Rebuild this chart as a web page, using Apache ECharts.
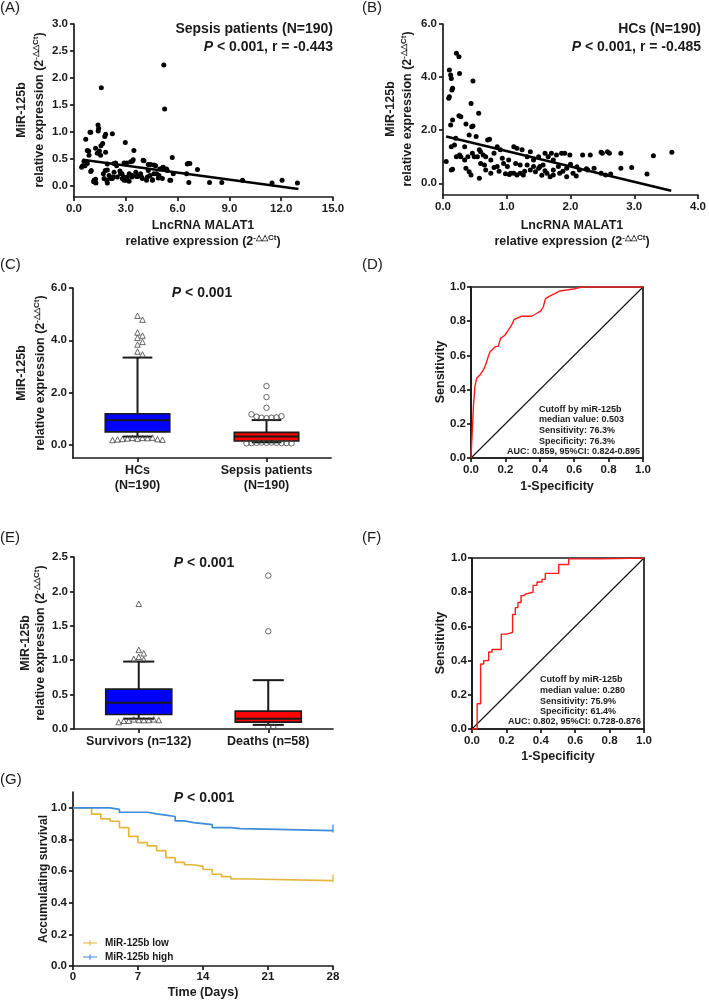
<!DOCTYPE html>
<html><head><meta charset="utf-8">
<script src="https://cdn.jsdelivr.net/npm/echarts@6/dist/echarts.min.js"></script>
<style>html,body{margin:0;padding:0;background:#fff}#c{width:709px;height:1001px}</style>
</head><body><div id="c"></div>
<script>
const FONT = '"Liberation Sans", Arial, Helvetica, sans-serif';
const INK = '#1a1a1a';

// ---------- Panel A: sepsis patients scatter ----------
const sepsisScatter = [
[5.2,2.24],[5.25,1.43],[1.58,1.82],
[1.39,1.13],[1.43,1.07],[1.40,1.02],[0.93,1.0],[0.97,1.0],[1.83,0.96],[1.78,0.92],[2.22,0.97],[0.68,0.87],[2.97,0.81],[1.66,0.79],[1.56,0.75],[0.77,0.66],[0.85,0.65],[1.25,0.70],[1.35,0.61],[1.47,0.65],[1.54,0.57],[1.83,0.63],[3.47,0.66],[0.87,0.57],[5.69,0.53],
[0.5,0.38],[0.44,0.35],[0.64,0.38],[0.58,0.46],[0.77,0.42],[1.0,0.29],[0.97,0.27],
[1.16,0.11],[1.27,0.06],[1.14,0.08],[1.25,0.13],
[1.7,0.23],[1.81,0.29],[1.89,0.11],[1.93,0.06],[1.74,0.14],[1.93,0.30],[1.93,0.41],
[2.31,0.42],[2.41,0.43],[2.47,0.38],[2.12,0.14],[2.27,0.17],[2.22,0.14],[2.32,0.26],[2.03,0.2],[2.51,0.17],
[2.66,0.28],[2.78,0.23],[2.7,0.23],[2.89,0.17],[2.8,0.14],[2.9,0.43],[2.9,0.11],[3.0,0.11],
[3.05,0.43],[3.09,0.17],[3.19,0.09],[3.28,0.45],[3.38,0.46],[3.43,0.49],[3.2,0.23],[3.35,0.17],[3.38,0.20],[3.62,0.18],[3.67,0.18],[3.58,0.26],[3.86,0.23],[3.91,0.17],[3.96,0.14],
[4.0,0.48],[4.05,0.47],[4.2,0.11],[4.25,0.17],[4.3,0.4],[4.3,0.29],[4.4,0.2],[4.44,0.40],[4.54,0.11],[4.55,0.12],[4.63,0.39],[4.63,0.23],[4.73,0.38],[4.78,0.23],[4.88,0.15],[4.92,0.2],[4.97,0.32],[5.12,0.34],[5.12,0.14],[5.17,0.35],[5.36,0.32],[5.4,0.29],[5.55,0.11],[5.6,0.11],[5.75,0.23],
[6.52,0.23],[6.56,0.41],[6.61,0.42],[6.71,0.42],[6.65,0.07],[7.15,0.31],[7.85,0.07],[8.56,0.07],[9.76,0.11],[11.47,0.06],[12.05,0.11],[12.94,0.06]
];
const sepsisFit = [[0.5,0.49],[13,-0.05]];
const aXTicks = [0,3,6,9,12,15];
const aYTicks = [0,0.5,1,1.5,2,2.5,3];

// ---------- Panel B: HCs scatter ----------
const hcScatter = [
[0.05,0.82],[0.1,4.27],[0.12,4.08],[0.13,3.95],[0.09,3.2],[0.1,3.26],[0.14,3.51],[0.15,3.58],[0.21,4.9],[0.25,4.77],[0.26,4.14],[0.47,3.85],[0.44,3.01],[0.56,2.64],
[0.12,2.2],[0.15,2.38],[0.25,2.54],[0.28,2.51],[0.36,2.23],[0.45,2.13],[0.47,2.16],[0.41,1.82],[0.52,1.76],
[0.2,1.7],[0.13,1.38],[0.18,1.44],[0.34,1.38],[0.21,1.0],[0.26,1.07],[0.13,0.5],[0.15,0.53],[0.41,0.44],[0.44,0.31],[0.57,0.19],
[0.39,1.0],[0.46,1.13],[0.54,1.0],[0.59,1.19],[0.67,1.0],[0.75,0.88],[0.8,1.13],[0.7,1.63],[0.73,1.66],[0.85,1.38],[0.9,1.26],
[0.65,0.69],[0.67,0.5],[0.75,0.38],[0.95,0.75],[1.01,0.63],[1.06,0.38],[1.11,0.38],[1.16,0.31],[1.21,0.38],[1.26,0.31],
[1.11,1.38],[1.16,1.32],[1.24,1.26],[1.32,1.0],[1.37,1.19],[1.42,0.88],[1.5,1.0],[1.52,0.63],[1.57,0.69],
[1.6,1.13],[1.65,1.0],[1.7,1.13],[1.73,0.88],[1.78,1.07],[1.86,1.13],[1.91,1.13],[1.99,1.07],
[1.37,0.5],[1.45,0.44],[1.63,0.38],[1.73,0.5],[1.81,0.63],[1.94,0.57],[2.04,0.38],[2.09,0.28],[2.14,0.5],
[2.19,1.07],[2.31,1.07],[2.48,1.17],[2.5,1.13],[2.58,1.19],[2.61,1.13],[2.79,1.13],
[2.27,0.5],[2.37,0.57],[2.48,0.38],[2.55,0.31],[2.63,0.35],[2.79,0.57],[2.96,0.6],[3.2,0.35],[3.3,1.04],[3.59,1.17],
[0.85,0.63],[0.93,0.94],[1.03,0.88],[1.14,0.75],[1.21,0.69],[1.32,0.69],[1.42,0.63],[1.5,0.57],[1.73,0.31],[1.83,0.38],[1.94,0.25],
[0.49,1.0],[0.57,1.26],[0.59,0.75],[0.63,1.07],[0.28,1.0],[0.36,0.57],[0.34,0.88],
[0.98,0.36],[1.04,0.33],[1.28,0.45],[1.55,0.3],[1.68,0.25],[0.88,0.45],[0.8,0.6],[1.6,0.47],[1.88,0.45],[2.0,0.72],[2.1,0.62],[2.25,0.55]
];
const hcFit = [[0.05,1.76],[3.58,-0.28]];
const bXTicks = [0,1,2,3,4];
const bYTicks = [0,2,4,6];

// ---------- Panel C: boxplot HCs vs sepsis ----------
const cCategories = ['HCs\n(N=190)', 'Sepsis patients\n(N=190)'];
const cBoxes = [[0.32,0.5,0.94,1.19,3.34],[0.1,0.15,0.32,0.48,0.95]]; // low, Q1, median, Q3, high
const cOutliersHC = [4.94,4.79,4.3,4.18,4.1,3.94,3.84,3.57,3.46,0.24,0.27,0.27,0.26,0.25,0.28,0.23,0.22,0.21,0.2,0.19];
const cOutliersSepsis = [2.25,1.83,1.42,1.02,1.04,1.04,1.05,1.08,1.1,1.17,0.08,0.09,0.09,0.08,0.08,0.07,0.07,0.07,0.06,0.06];
const cYTicks = [0,2,4,6];

// ---------- Panel D: ROC HCs vs sepsis ----------
const rocD = [[0,0],[0.004,0.087],[0.008,0.165],[0.014,0.3],[0.023,0.42],[0.033,0.466],[0.052,0.485],[0.072,0.515],[0.085,0.544],[0.1,0.592],[0.11,0.62],[0.14,0.65],[0.159,0.654],[0.172,0.7],[0.197,0.718],[0.217,0.748],[0.236,0.777],[0.251,0.81],[0.275,0.821],[0.294,0.829],[0.352,0.829],[0.381,0.845],[0.406,0.86],[0.42,0.883],[0.433,0.932],[0.449,0.942],[0.487,0.961],[0.516,0.977],[0.565,0.984],[0.603,0.99],[0.642,1.0],[1,1]];
const rocTicks = [0,0.2,0.4,0.6,0.8,1.0];
const dText = ['Cutoff by miR-125b','median value: 0.503','Sensitivity: 76.3%','Specificity: 76.3%'];
const dAuc = 'AUC: 0.859, 95%CI: 0.824-0.895';

// ---------- Panel E: boxplot survivors vs deaths ----------
const eCategories = ['Survivors (n=132)', 'Deaths (n=58)'];
const eBoxes = [[0.15,0.21,0.38,0.58,0.98],[0.06,0.1,0.15,0.26,0.71]];
const eOutliersSurv = [1.82,1.15,1.1,1.05,1.01,1.02,0.13,0.13,0.14,0.13,0.12,0.14,0.12,0.13,0.1];
const eOutliersDeath = [2.23,1.42,0.03,0.03];
const eYTicks = [0,0.5,1,1.5,2,2.5];

// ---------- Panel F: ROC survivors vs deaths (step corners) ----------
const rocF = [[0,0],[0.03,0.148],[0.05,0.38],[0.068,0.40],[0.097,0.45],[0.116,0.465],[0.17,0.555],[0.2,0.565],[0.236,0.67],[0.252,0.71],[0.267,0.74],[0.285,0.78],[0.3,0.79],[0.314,0.80],[0.355,0.84],[0.378,0.86],[0.407,0.875],[0.426,0.91],[0.504,0.962],[0.562,0.995],[0.756,1.0],[1,1]];
const fText = ['Cutoff by miR-125b','median value: 0.280','Sensitivity: 75.9%','Specificity: 61.4%'];
const fAuc = 'AUC: 0.802, 95%CI: 0.728-0.876';

// ---------- Panel G: Kaplan-Meier ----------
const kmLowDays = [0,2,3,4,5,6,7,8,9,10,11,12,13,14,15,16,17,19,28];
const kmLowSurv = [1,0.96,0.93,0.915,0.875,0.82,0.78,0.76,0.73,0.685,0.655,0.64,0.63,0.61,0.58,0.565,0.55,0.54,0.54];
const kmHighDays = [0,4,5,8,9,10,11,12,13,15,17,18,22,28];
const kmHighSurv = [1,0.99,0.972,0.962,0.954,0.945,0.917,0.906,0.894,0.875,0.869,0.864,0.856,0.856];
const gXTicks = [0,7,14,21,28];
const gYTicks = [0,0.2,0.4,0.6,0.8,1.0];
const kmNames = ['MiR-125b low','MiR-125b high'];

// ---------- helpers ----------
const f1 = v => Number(v).toFixed(1);
function stairs(pts){
  const out=[pts[0]];
  for(let i=1;i<pts.length;i++){ out.push([pts[i][0], pts[i-1][1]]); out.push(pts[i]); }
  return out;
}
function zipXY(xs, ys){ return xs.map((x,i)=>[x, ys[i]]); }
function swarm(cat, vals, pxPerUnit, size){
  const placed=[], out=[];
  vals.forEach(v=>{
    const y=v*pxPerUnit; let k=0, dx=0;
    for(;;){
      dx = k===0 ? 0 : (k%2 ? 1 : -1)*Math.ceil(k/2)*size;
      if(!placed.some(p=>Math.abs(p.dx-dx)<size-0.01 && Math.abs(p.y-y)<size-0.01)) break;
      k++;
    }
    placed.push({dx,y});
    out.push({value:[cat,v], symbolOffset:[dx,0]});
  });
  return out;
}
const lineStyleAx = {color:INK, width:1.7};
function vAxis(gi, min, max, ticks, fmt, margin, extra){
  return Object.assign({
    gridIndex:gi, type:'value', min, max,
    axisLine:{show:true, onZero:false, lineStyle:lineStyleAx},
    axisTick:{show:true, length:4, customValues:ticks, lineStyle:lineStyleAx},
    axisLabel:{customValues:ticks, formatter:fmt||f1, fontFamily:FONT, fontWeight:'bold', fontSize:11.5, color:INK, margin:margin||6},
    splitLine:{show:false}
  }, extra||{});
}
function cAxis(gi, cats, lh){
  return {
    gridIndex:gi, type:'category', data:cats, boundaryGap:true,
    axisLine:{show:true, onZero:false, lineStyle:lineStyleAx},
    axisTick:{show:true, alignWithLabel:true, length:4, lineStyle:lineStyleAx},
    axisLabel:{interval:0, fontFamily:FONT, fontWeight:'bold', fontSize:12.5, lineHeight:lh||15, color:INK, margin:5},
    splitLine:{show:false}
  };
}
function boxRender(boxFrac, capFrac){
  return function(params, api){
    const x = api.value(0);
    const pL=api.coord([x,api.value(1)]), p1=api.coord([x,api.value(2)]), pm=api.coord([x,api.value(3)]), p3=api.coord([x,api.value(4)]), pH=api.coord([x,api.value(5)]);
    const band = api.size([1,0])[0];
    const bw = band*boxFrac, cw = band*capFrac, cx = pm[0];
    const ls = {stroke:INK, lineWidth:2};
    return {type:'group', children:[
      {type:'line', shape:{x1:cx,y1:pH[1],x2:cx,y2:p3[1]}, style:ls},
      {type:'line', shape:{x1:cx,y1:pL[1],x2:cx,y2:p1[1]}, style:ls},
      {type:'line', shape:{x1:cx-cw/2,y1:pH[1],x2:cx+cw/2,y2:pH[1]}, style:ls},
      {type:'line', shape:{x1:cx-cw/2,y1:pL[1],x2:cx+cw/2,y2:pL[1]}, style:ls},
      {type:'rect', shape:{x:cx-bw/2,y:p3[1],width:bw,height:p1[1]-p3[1]}, style:{fill:api.visual('color'), stroke:INK, lineWidth:1.6}},
      {type:'line', shape:{x1:cx-bw/2,y1:pm[1],x2:cx+bw/2,y2:pm[1]}, style:{stroke:INK,lineWidth:2}}
    ]};
  };
}
const boxColors = ['#0000ff','#ff0000'];
function boxData(boxes){ return boxes.map((b,i)=>({value:[i].concat(b), itemStyle:{color:boxColors[i]}})); }

// text helpers
const richBase = {
  b:{fontFamily:FONT, fontWeight:'bold', fontSize:12.5, fill:INK, lineHeight:16},
  g:{fontFamily:FONT, fontWeight:'bold', fontSize:12, fill:INK, lineHeight:16},
  s:{fontFamily:FONT, fontWeight:'bold', fontSize:8, fill:INK, verticalAlign:'top'},
  i:{fontFamily:FONT, fontWeight:'bold', fontStyle:'italic', fontSize:14, fill:INK, lineHeight:18},
  t:{fontFamily:FONT, fontWeight:'bold', fontSize:14, fill:INK, lineHeight:18}
};
function T(x, y, text, o){
  o=o||{};
  const align=o.align||'center', va=o.va||'middle';
  return {type:'text', x, y, rotation:o.rot||0, silent:true, z:100,
    style:{text, rich:richBase, fill:INK, font:o.font||('bold 12px '+FONT),
      align, verticalAlign:va, textAlign:align, textVerticalAlign:va}};
}
const expr = '{b|relative expression (2}{s|-△△Ct}{b|)}';
const R = Math.PI/2;
const graphics = [
  T(0,8,'(A)',{align:'left',font:'15px '+FONT}),
  T(362,8,'(B)',{align:'left',font:'15px '+FONT}),
  T(0,265,'(C)',{align:'left',font:'15px '+FONT}),
  T(362,265,'(D)',{align:'left',font:'15px '+FONT}),
  T(0,538,'(E)',{align:'left',font:'15px '+FONT}),
  T(362,538,'(F)',{align:'left',font:'15px '+FONT}),
  T(0,780,'(G)',{align:'left',font:'15px '+FONT}),
  // A
  T(333,29,'{t|Sepsis patients (N=190)}',{align:'right'}),
  T(333,47,'{i|P}{t| < 0.001, r = -0.443}',{align:'right'}),
  T(22,110,'{b|MiR-125b}',{rot:R}),
  T(40,110,expr,{rot:R}),
  T(203,226,'{b|LncRNA MALAT1}'),
  T(203,242,expr),
  // B
  T(701,29,'{t|HCs (N=190)}',{align:'right'}),
  T(701,47,'{i|P}{t| < 0.001, r = -0.485}',{align:'right'}),
  T(391,109,'{b|MiR-125b}',{rot:R}),
  T(408,109,expr,{rot:R}),
  T(572,226,'{b|LncRNA MALAT1}'),
  T(572,242,expr),
  // C
  T(202,293,'{i|P}{t| < 0.001}'),
  T(22,373,'{b|MiR-125b}',{rot:R}),
  T(41,373,expr,{rot:R}),
  // D
  T(441,372,'{b|Sensitivity}',{rot:R}),
  T(557,487,'{b|1-Specificity}'),
  // E
  T(204,563,'{i|P}{t| < 0.001}'),
  T(26,643,'{b|MiR-125b}',{rot:R}),
  T(41,643,expr,{rot:R}),
  // F
  T(441,643,'{b|Sensitivity}',{rot:R}),
  T(558,757,'{b|1-Specificity}'),
  // G
  T(204,798,'{i|P}{t| < 0.001}'),
  T(44,879,'{g|Accumulating survival}',{rot:R}),
  T(203,993,'{b|Time (Days)}')
];
const smallFont = 'bold 9px '+FONT;
dText.forEach((s,k)=>graphics.push(T(539,409.3+k*10.7,s,{align:'left',font:smallFont})));
graphics.push(T(640,452,dAuc,{align:'right',font:smallFont}));
fText.forEach((s,k)=>graphics.push(T(540,680+k*10.6,s,{align:'left',font:smallFont})));
graphics.push(T(641,722,fAuc,{align:'right',font:smallFont}));

const triStyle = {color:'rgba(0,0,0,0)', borderColor:'#444', borderWidth:1};
const kmColors = ['#e6b63c','#3b8ddb'];

const option = {
  animation:false,
  backgroundColor:'#fff',
  textStyle:{fontFamily:FONT},
  grid:[
    {left:74, top:24, width:259, height:173},
    {left:443, top:24, width:259, height:171},
    {left:73, top:288, width:258, height:170},
    {left:471, top:287, width:172, height:171, show:true, borderColor:INK, borderWidth:1.7, backgroundColor:'transparent'},
    {left:74, top:557, width:259, height:172},
    {left:472, top:558, width:172, height:171, show:true, borderColor:INK, borderWidth:1.7, backgroundColor:'transparent'},
    {left:73, top:792, width:260, height:174}
  ],
  xAxis:[
    vAxis(0,0,15,aXTicks,f1,6),
    vAxis(1,0,4,bXTicks,f1,6),
    cAxis(2,cCategories,15),
    vAxis(3,0,1,rocTicks,f1,6),
    cAxis(4,eCategories,15),
    vAxis(5,0,1,rocTicks,f1,6),
    vAxis(6,0,28,gXTicks,v=>String(v),5)
  ],
  yAxis:[
    vAxis(0,-0.2,3,aYTicks,f1,6),
    vAxis(1,-0.44,6,bYTicks,f1,6),
    vAxis(2,-0.5,6,cYTicks,f1,6),
    vAxis(3,0,1,rocTicks,f1,5),
    vAxis(4,0,2.5,eYTicks,f1,6),
    vAxis(5,0,1,rocTicks,f1,5),
    vAxis(6,0,1.1,gYTicks,f1,6)
  ],
  legend:{
    data:kmNames, orient:'vertical', left:78, top:933, itemWidth:14, itemHeight:8, itemGap:4,
    icon:'path://M0,4.2H20V5.8H0ZM9.2,1H10.8V9H9.2Z',
    textStyle:{fontFamily:FONT, fontWeight:'bold', fontSize:10, color:INK, padding:[0,0,0,3]}
  },
  graphic: graphics,
  series:[
    {type:'scatter', xAxisIndex:0, yAxisIndex:0, data:sepsisScatter, symbolSize:5, itemStyle:{color:'#000', opacity:1}},
    {type:'line', xAxisIndex:0, yAxisIndex:0, data:sepsisFit, symbol:'none', lineStyle:{color:'#000', width:2.5}},
    {type:'scatter', xAxisIndex:1, yAxisIndex:1, data:hcScatter, symbolSize:5, itemStyle:{color:'#000', opacity:1}},
    {type:'line', xAxisIndex:1, yAxisIndex:1, data:hcFit, symbol:'none', lineStyle:{color:'#000', width:2.5}},
    {type:'custom', xAxisIndex:2, yAxisIndex:2, renderItem:boxRender(0.5,0.23), encode:{x:0, y:[1,2,3,4,5]}, data:boxData(cBoxes), z:2},
    {type:'scatter', xAxisIndex:2, yAxisIndex:2, symbol:'triangle', symbolSize:5.5, itemStyle:triStyle, data:swarm(0,cOutliersHC,170/6.5,5), z:3},
    {type:'scatter', xAxisIndex:2, yAxisIndex:2, symbol:'circle', symbolSize:5.5, itemStyle:triStyle, data:swarm(1,cOutliersSepsis,170/6.5,5), z:3},
    {type:'line', xAxisIndex:3, yAxisIndex:3, data:[[0,0],[1,1]], symbol:'none', lineStyle:{color:'#111', width:1.1}},
    {type:'line', xAxisIndex:3, yAxisIndex:3, data:rocD, symbol:'none', lineStyle:{color:'#ff1a1a', width:1.4}},
    {type:'custom', xAxisIndex:4, yAxisIndex:4, renderItem:boxRender(0.51,0.24), encode:{x:0, y:[1,2,3,4,5]}, data:boxData(eBoxes), z:2},
    {type:'scatter', xAxisIndex:4, yAxisIndex:4, symbol:'triangle', symbolSize:5.5, itemStyle:triStyle, data:swarm(0,eOutliersSurv,172/2.5,5), z:3},
    {type:'scatter', xAxisIndex:4, yAxisIndex:4, symbol:'circle', symbolSize:5.5, itemStyle:triStyle, data:swarm(1,eOutliersDeath,172/2.5,5), z:3},
    {type:'line', xAxisIndex:5, yAxisIndex:5, data:[[0,0],[1,1]], symbol:'none', lineStyle:{color:'#111', width:1.1}},
    {type:'line', xAxisIndex:5, yAxisIndex:5, data:stairs(rocF), symbol:'none', lineStyle:{color:'#ff1a1a', width:1.4}},
    {type:'line', name:kmNames[0], xAxisIndex:6, yAxisIndex:6, data:stairs(zipXY(kmLowDays,kmLowSurv)), symbol:'none', color:kmColors[0], lineStyle:{color:kmColors[0], width:1.7}},
    {type:'line', name:kmNames[1], xAxisIndex:6, yAxisIndex:6, data:stairs(zipXY(kmHighDays,kmHighSurv)), symbol:'none', color:kmColors[1], lineStyle:{color:kmColors[1], width:1.7}},
    {type:'scatter', name:'censor-low', xAxisIndex:6, yAxisIndex:6, data:[[kmLowDays[kmLowDays.length-1], kmLowSurv[kmLowSurv.length-1]]], symbol:'rect', symbolSize:[1.6,8], symbolOffset:[0,-2], itemStyle:{color:kmColors[0]}},
    {type:'scatter', name:'censor-high', xAxisIndex:6, yAxisIndex:6, data:[[kmHighDays[kmHighDays.length-1], kmHighSurv[kmHighSurv.length-1]]], symbol:'rect', symbolSize:[1.6,8], symbolOffset:[0,-2], itemStyle:{color:kmColors[1]}}
  ]
};
const chart = echarts.init(document.getElementById('c'));
chart.setOption(option);
</script>
</body></html>
